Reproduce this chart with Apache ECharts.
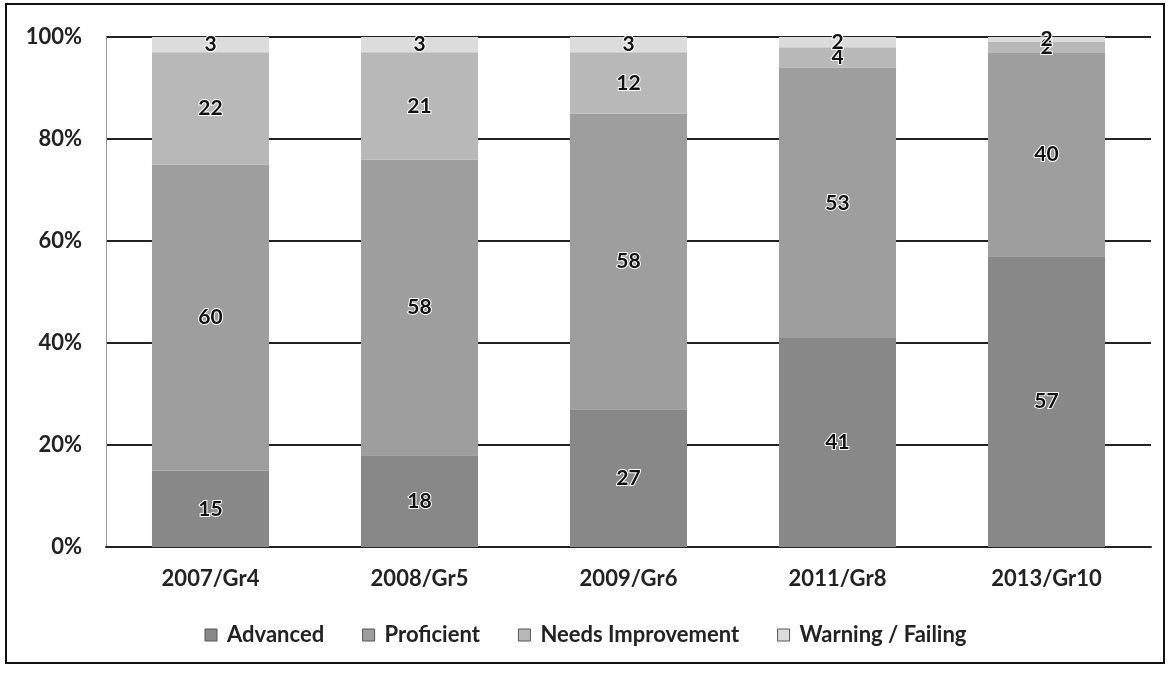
<!DOCTYPE html>
<html>
<head>
<meta charset="utf-8">
<script src="https://cdn.jsdelivr.net/npm/echarts@6/dist/echarts.min.js"></script>
<style>
  html, body { margin: 0; padding: 0; background: #fff; }
  #chart { width: 1171px; height: 673px; }
</style>
</head>
<body>
<div id="chart"></div>
<script>
// Test results by cohort, percent of students per performance level
const categories = ['2007/Gr4', '2008/Gr5', '2009/Gr6', '2011/Gr8', '2013/Gr10'];
const advanced = [15, 18, 27, 41, 57];
const proficient = [60, 58, 58, 53, 40];
const needsImprovement = [22, 21, 12, 4, 2];
const warningFailing = [3, 3, 3, 2, 2];
const yTicks = [0, 20, 40, 60, 80, 100];

const FONT = 'Lato, "Open Sans", sans-serif';

function layer(name, data, color) {
  return {
    name: name,
    type: 'bar',
    stack: 'total',
    data: data,
    barWidth: '56%',
    itemStyle: { color: color },
    label: {
      show: true,
      position: 'inside',
      color: '#111',
      fontFamily: FONT,
      fontWeight: 'bold',
      fontSize: 21,
      textBorderColor: '#fff',
      textBorderWidth: 2
    }
  };
}

const chart = echarts.init(document.getElementById('chart'));
chart.setOption({
  animation: false,
  backgroundColor: '#fff',
  graphic: [{
    type: 'rect',
    shape: { x: 6, y: 4, width: 1158, height: 659 },
    style: { fill: 'none', stroke: '#111', lineWidth: 2 },
    silent: true
  }],
  grid: { left: 106, right: 20, top: 37, bottom: 126 },
  legend: {
    bottom: 22,
    left: 'center',
    itemWidth: 12,
    itemHeight: 12,
    itemGap: 38,
    icon: 'rect',
    itemStyle: { borderColor: '#555', borderWidth: 1 },
    textStyle: { fontFamily: FONT, fontWeight: 'bold', fontSize: 22, color: '#222', padding: [0, 0, 0, 5] },
    data: ['Advanced', 'Proficient', 'Needs Improvement', 'Warning / Failing']
  },
  xAxis: {
    type: 'category',
    data: categories,
    axisTick: { show: false },
    axisLine: { lineStyle: { color: '#222', width: 2 } },
    axisLabel: { fontFamily: FONT, fontWeight: 'bold', fontSize: 22, color: '#222', margin: 21 }
  },
  yAxis: {
    type: 'value',
    min: yTicks[0],
    max: yTicks[yTicks.length - 1],
    interval: yTicks[1] - yTicks[0],
    axisLine: { show: true, lineStyle: { color: '#999', width: 1 } },
    axisTick: { show: false },
    splitLine: { lineStyle: { color: '#222', width: 2 } },
    axisLabel: {
      fontFamily: FONT, fontWeight: 'bold', fontSize: 22, color: '#222', margin: 24,
      formatter: v => v + '%'
    }
  },
  series: [
    layer('Advanced', advanced, '#888888'),
    layer('Proficient', proficient, '#9e9e9e'),
    layer('Needs Improvement', needsImprovement, '#b8b8b8'),
    layer('Warning / Failing', warningFailing, '#dcdcdc')
  ]
});
</script>
</body>
</html>
